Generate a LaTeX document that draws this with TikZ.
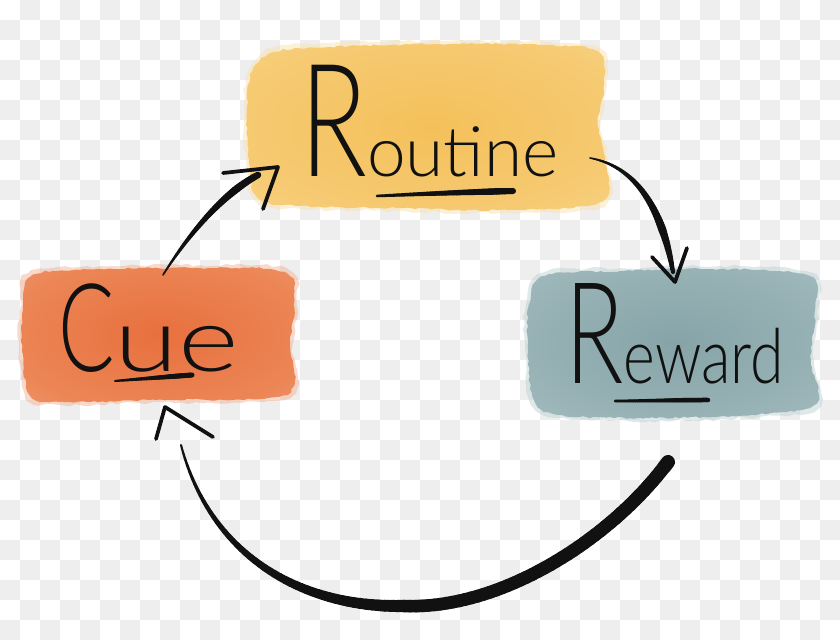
\documentclass[tikz,border=0pt]{standalone}
\usepackage{fontspec}
\usepackage{graphicx}
\usetikzlibrary{decorations.pathmorphing}
\IfFontExistsTF{Lato Light}{\newfontfamily\handL{Lato Light}\newfontfamily\handT{Lato Light}}{%
  \IfFontExistsTF{Fira Sans Light}{\newfontfamily\handL{Fira Sans Light}\newfontfamily\handT{Fira Sans Light}}{\newfontfamily\handL{Carlito}\newfontfamily\handT{Carlito}}}
\definecolor{checker}{HTML}{EEEEEE}
\definecolor{ink}{HTML}{111111}
\definecolor{rtA}{HTML}{F4C05A}
\definecolor{rtB}{HTML}{F6CB74}
\definecolor{rtC}{HTML}{FAE0A6}
\definecolor{cuA}{HTML}{E8703E}
\definecolor{cuB}{HTML}{EC8656}
\definecolor{cuC}{HTML}{F3AC8C}
\definecolor{rwA}{HTML}{86A4A8}
\definecolor{rwB}{HTML}{9AB4B7}
\definecolor{rwC}{HTML}{BCCFD0}
\pgfdeclareradialshading{rtshade}{\pgfpoint{0bp}{0bp}}{color(0bp)=(rtA); color(28bp)=(rtB); color(52bp)=(rtC); color(75bp)=(rtC)}
\pgfdeclareradialshading{cushade}{\pgfpoint{0bp}{0bp}}{color(0bp)=(cuA); color(28bp)=(cuB); color(52bp)=(cuC); color(75bp)=(cuC)}
\pgfdeclareradialshading{rwshade}{\pgfpoint{0bp}{0bp}}{color(0bp)=(rwA); color(28bp)=(rwB); color(52bp)=(rwC); color(75bp)=(rwC)}
\newcommand\setbez[8]{\gdef\bxa{#1}\gdef\bya{#2}\gdef\bxb{#3}\gdef\byb{#4}\gdef\bxc{#5}\gdef\byc{#6}\gdef\bxd{#7}\gdef\byd{#8}}
\newcommand\brush[4]{%
  \foreach \k in {0,...,47}{%
    \pgfmathsetmacro\ta{\k/48}%
    \pgfmathsetmacro\tb{(\k+1)/48}%
    \pgfmathsetmacro\xa{(1-\ta)^3*\bxa+3*(1-\ta)^2*\ta*\bxb+3*(1-\ta)*\ta^2*\bxc+\ta^3*\bxd}%
    \pgfmathsetmacro\ya{(1-\ta)^3*\bya+3*(1-\ta)^2*\ta*\byb+3*(1-\ta)*\ta^2*\byc+\ta^3*\byd}%
    \pgfmathsetmacro\xb{(1-\tb)^3*\bxa+3*(1-\tb)^2*\tb*\bxb+3*(1-\tb)*\tb^2*\bxc+\tb^3*\bxd}%
    \pgfmathsetmacro\yb{(1-\tb)^3*\bya+3*(1-\tb)^2*\tb*\byb+3*(1-\tb)*\tb^2*\byc+\tb^3*\byd}%
    \pgfmathsetmacro\tm{(\ta+\tb)/2}%
    \pgfmathsetmacro\w{\tm<#3 ? #1+(#2-#1)*\tm/#3 : #2+(#4-#2)*(\tm-#3)/(1-#3)}%
    \pgfmathsetmacro\lw{0.75*\w}%
    \draw[ink, line width=\lw pt, line cap=round] (\xa,\ya) -- (\xb,\yb);%
  }}
\tikzset{
  wash/.style={decorate, decoration={random steps, segment length=3pt, amplitude=0.7pt}},
  halo/.style={decorate, decoration={random steps, segment length=5pt, amplitude=1.2pt}, opacity=0.45},
  head/.style={ink, line width=2.8pt, line cap=round, line join=round},
  label/.style={ink, anchor=base west, inner sep=0pt}
}
\begin{document}
\begin{tikzpicture}[x=0.75pt, y=-0.75pt]
\pgfmathsetseed{7}
\useasboundingbox (0,0) rectangle (840,640);
\fill[white] (0,0) rectangle (840,640);
% transparency checkerboard
\foreach \i in {0,...,41}{\foreach \j in {0,...,31}{%
  \pgfmathtruncatemacro\pq{mod(\i+\j,2)}%
  \ifnum\pq=1 \fill[checker] (\i*20,\j*20) rectangle ++(20,20);\fi}}
% watercolour washes (soft rim + body)
\fill[rtC, halo] plot[smooth cycle, tension=0.6] coordinates {
  (244,110) (249,70) (274,48) (330,43) (440,41) (545,42) (601,49) (607,85) (601,122) (608,160) (603,205) (500,213) (400,211) (300,209) (256,201) (246,160)};
\shade[shading=rtshade, wash] plot[smooth cycle, tension=0.6] coordinates {
  (247,110) (252,72) (275,52) (330,47) (440,44) (545,45) (598,52) (604,85) (598,122) (605,160) (600,202) (500,210) (400,208) (300,206) (258,198) (249,160)};
\fill[cuC, halo] plot[smooth cycle, tension=0.6] coordinates {
  (20,310) (27,274) (80,267) (200,265) (287,269) (297,305) (293,345) (297,388) (268,401) (150,403) (60,405) (27,398) (19,350)};
\shade[shading=cushade, wash] plot[smooth cycle, tension=0.6] coordinates {
  (23,310) (30,277) (80,270) (200,268) (284,272) (294,305) (290,345) (294,385) (268,398) (150,400) (60,402) (30,395) (22,350)};
\fill[rwC, halo] plot[smooth cycle, tension=0.6] coordinates {
  (526,305) (542,273) (620,268) (720,266) (812,273) (818,312) (814,360) (819,406) (760,417) (650,421) (560,418) (531,403) (525,350)};
\shade[shading=rwshade, wash] plot[smooth cycle, tension=0.6] coordinates {
  (529,305) (545,276) (620,271) (720,269) (809,276) (815,312) (811,360) (816,403) (760,414) (650,418) (560,415) (534,400) (528,350)};
% words
\node[label] (routine) at (300,176) {\scalebox{0.7}[1]{\fontsize{118}{118}\selectfont\handT R}\fontsize{52}{52}\selectfont\handL outine};
\node[label] (cue) at (58,371) {\scalebox{0.68}[1]{\fontsize{92}{92}\selectfont\handT C}\scalebox{1.3}[1]{\fontsize{67}{67}\selectfont\handL ue}};
\node[label] (reward) at (565,383) {\scalebox{0.68}[1]{\fontsize{106}{106}\selectfont\handT R}\scalebox{0.8}[1]{\fontsize{57}{57}\selectfont\handL eward}};
% underlines
\setbez{377}{196}{420}{194}{470}{192}{513}{191}\brush{2.5}{6.5}{0.85}{6}
\setbez{115}{381}{140}{379}{165}{377}{192}{375}\brush{2}{5}{0.8}{5}
\setbez{615}{401}{645}{401}{675}{400}{708}{400}\brush{2.5}{4.5}{0.8}{4.5}
% Cue -> Routine
\coordinate (t1) at (278,167);
\setbez{163}{275}{185}{240}{220}{195}{258}{175}\brush{1.5}{7.5}{0.8}{6.5}
\draw[head] (223,173) -- (t1) -- (263,209);
% Routine -> Reward
\coordinate (t2) at (675,282);
\setbez{590}{158}{645}{168}{665}{225}{673}{272}\brush{1.5}{8}{0.7}{4}
\draw[head] (652,257) -- (t2) -- (687,248);
% Reward -> Cue
\coordinate (t3) at (165,407);
\setbez{668}{462}{610}{540}{500}{610}{404}{606}\brush{14.5}{13.5}{0.02}{12.5}
\setbez{404}{606}{300}{608}{210}{555}{181}{445}\brush{12.5}{12}{0.03}{2}
\draw[head] (156,439) -- (t3) -- (213,437);
\end{tikzpicture}
\end{document}
